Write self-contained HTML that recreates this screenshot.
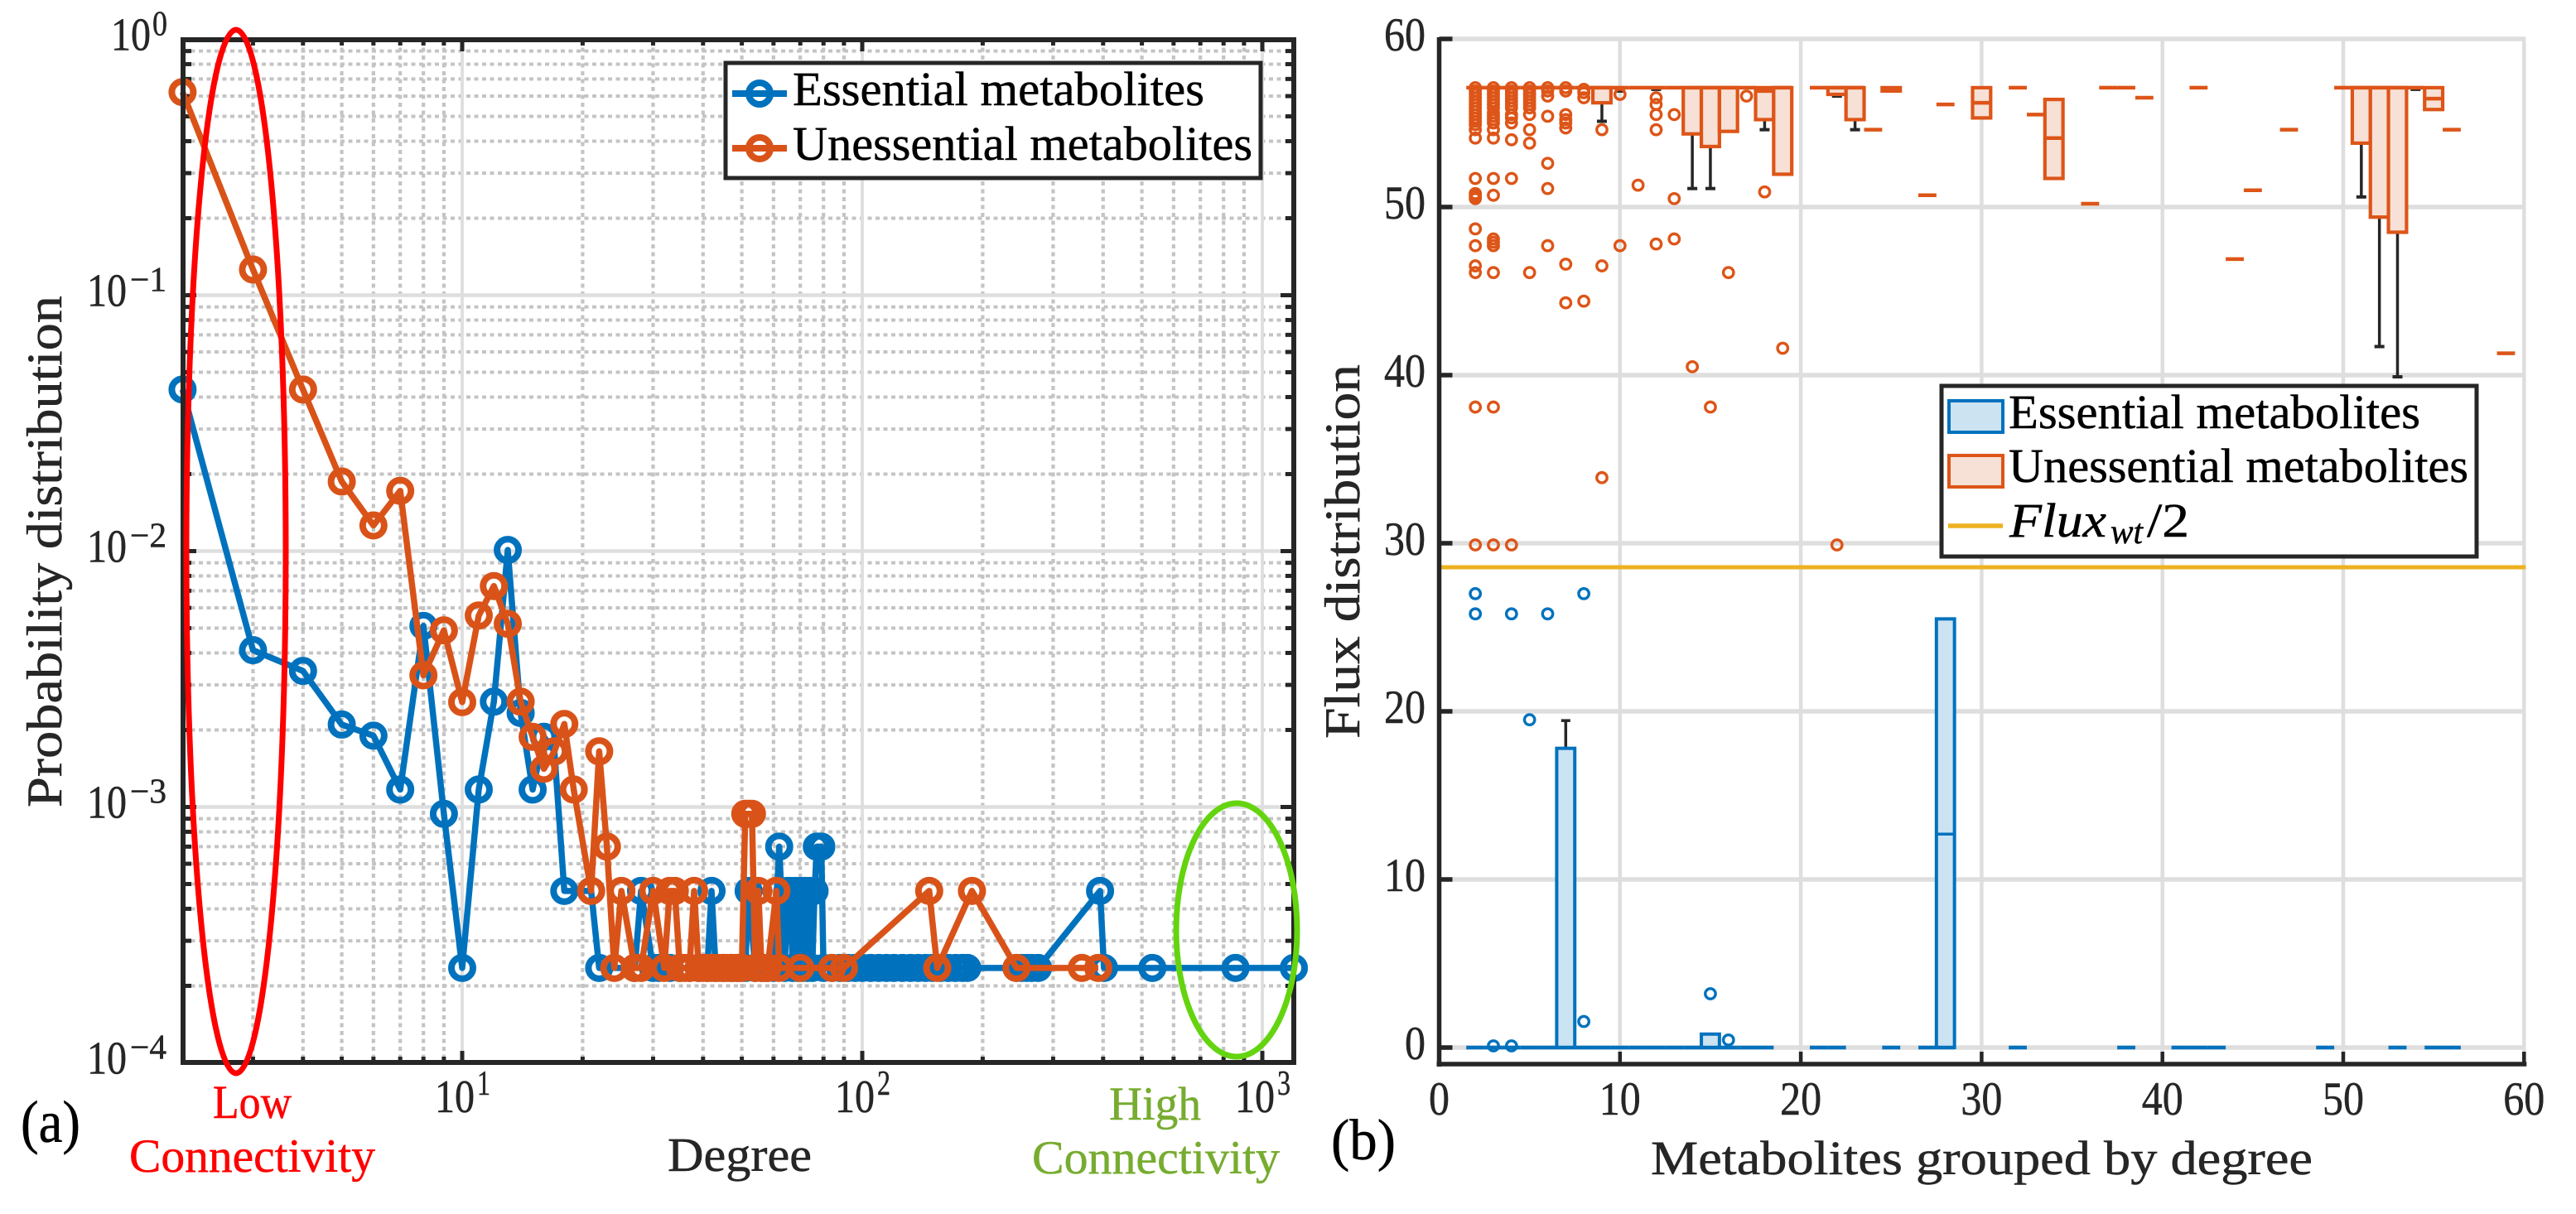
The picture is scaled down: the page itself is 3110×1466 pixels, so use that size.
<!DOCTYPE html>
<html lang="en">
<head>
<meta charset="utf-8">
<title>Metabolite degree and flux distributions</title>
<style>
html,body{margin:0;padding:0;background:#fff;}
svg{display:block;}
text{font-family:"Liberation Serif",serif;color:#262626;fill:currentColor;stroke:currentColor;stroke-width:0.5px;}
</style>
</head>
<body>
<svg id="fig" xmlns="http://www.w3.org/2000/svg" width="3110" height="1466" viewBox="0 0 3110 1466">
  <rect x="0" y="0" width="3110" height="1466" fill="#ffffff"/>

  <g id="panelA">
    <g id="gridA"></g>
    <g id="ticksA"></g>
    <g id="seriesA"></g>
    <rect x="221" y="48" width="1341" height="1235" fill="none" stroke="#262626" stroke-width="6"/>
    <g>
      <rect x="876" y="76" width="646" height="139" fill="#ffffff" stroke="#262626" stroke-width="5"/>
      <line x1="884" y1="113" x2="950" y2="113" stroke="#0072bd" stroke-width="8"/>
      <circle cx="917" cy="113" r="13" fill="none" stroke="#0072bd" stroke-width="8"/>
      <line x1="884" y1="179" x2="950" y2="179" stroke="#d95319" stroke-width="8"/>
      <circle cx="917" cy="179" r="13" fill="none" stroke="#d95319" stroke-width="8"/>
      <text x="957" y="127" font-size="58" textLength="497" lengthAdjust="spacingAndGlyphs" style="color:#000">Essential metabolites</text>
      <text x="957" y="193" font-size="58" textLength="555" lengthAdjust="spacingAndGlyphs" style="color:#000">Unessential metabolites</text>
    </g>
    <ellipse cx="285" cy="666" rx="60" ry="630" fill="none" stroke="#ff0000" stroke-width="7"/>
    <ellipse cx="1493" cy="1123" rx="73" ry="153" fill="none" stroke="#64d40f" stroke-width="7"/>
    <text transform="translate(74,975) rotate(-90)" font-size="60" textLength="618" lengthAdjust="spacingAndGlyphs">Probability distribution</text>
    <text x="806" y="1414" font-size="58" textLength="174" lengthAdjust="spacingAndGlyphs">Degree</text>
    <text x="257" y="1350" font-size="57" textLength="95" lengthAdjust="spacingAndGlyphs" style="color:#ff0000">Low</text>
    <text x="156" y="1415" font-size="57" textLength="297" lengthAdjust="spacingAndGlyphs" style="color:#ff0000">Connectivity</text>
    <text x="1339" y="1352" font-size="57" textLength="111" lengthAdjust="spacingAndGlyphs" style="color:#77ac30">High</text>
    <text x="1246" y="1417" font-size="57" textLength="299" lengthAdjust="spacingAndGlyphs" style="color:#77ac30">Connectivity</text>
    <text x="25" y="1379" font-size="72" textLength="72" lengthAdjust="spacingAndGlyphs" style="color:#000">(a)</text>
  </g>

  <g id="panelB">
    <g id="gridB"></g>
    <g id="seriesB"></g>
    <g id="ticksB"></g>
    <g>
      <rect x="2344" y="466" width="646" height="206" fill="#ffffff" stroke="#262626" stroke-width="5"/>
      <rect x="2353" y="484" width="65" height="38" fill="#cce3f2" stroke="#0072bd" stroke-width="4"/>
      <rect x="2353" y="550" width="65" height="38" fill="#f7e0d5" stroke="#dd5518" stroke-width="4"/>
      <line x1="2352" y1="635" x2="2418" y2="635" stroke="#edb120" stroke-width="5.5"/>
      <text x="2425" y="517" font-size="58" textLength="497" lengthAdjust="spacingAndGlyphs" style="color:#000">Essential metabolites</text>
      <text x="2425" y="582" font-size="58" textLength="555" lengthAdjust="spacingAndGlyphs" style="color:#000">Unessential metabolites</text>
      <text x="2426" y="648" font-size="58" font-style="italic" textLength="117" lengthAdjust="spacingAndGlyphs" style="color:#000">Flux</text>
      <text x="2548" y="656" font-size="42" font-style="italic" textLength="39" lengthAdjust="spacingAndGlyphs" style="color:#000">wt</text>
      <text x="2592" y="648" font-size="58" textLength="51" lengthAdjust="spacingAndGlyphs" style="color:#000">/2</text>
    </g>
    <text transform="translate(1641,892) rotate(-90)" font-size="60" textLength="452" lengthAdjust="spacingAndGlyphs">Flux distribution</text>
    <text x="1993" y="1418" font-size="58" textLength="799" lengthAdjust="spacingAndGlyphs">Metabolites grouped by degree</text>
    <text x="1607" y="1400" font-size="70" textLength="78" lengthAdjust="spacingAndGlyphs" style="color:#000">(b)</text>
  </g>
</svg>

<script>
/* ---------- Panel (a) data ---------- */
var degreeEssential = [2,3,4,5,6,7,8,9,10,11,12,13,14,15,16,17,18,21,22,27,
  28,30,31,33,35,37,39,41,42,43,45,47,49,51,52,54,
  56,58,60,62,64,65,66,67,68,69,70,71,72,73,74,75,76,77,78,79,80,
  84,88,92,96,100,105,110,115,120,126,132,138,144,150,157,164,171,178,183,
  243,250,258,265,275,393,402,531,857,1199];
var probEssential = [0.0428,0.0041,0.0034,0.0021,0.0019,0.00117,0.0051,0.00094,0.000235,0.00117,0.00258,0.0101,0.00233,0.00117,0.00188,0.00165,0.00047,0.00047,0.000235,0.000235,
  0.00047,0.000235,0.000235,0.000235,0.000235,0.000235,0.000235,0.000235,0.00047,0.000235,0.000235,0.000235,0.000235,0.000235,0.00047,0.000235,
  0.000235,0.000235,0.000235,0.0007,0.000235,0.00047,0.00047,0.000235,0.00047,0.000235,0.00047,0.000235,0.00047,0.000235,0.00047,0.000235,0.00047,0.0007,0.0007,0.0007,0.000235,
  0.000235,0.000235,0.000235,0.000235,0.000235,0.000235,0.000235,0.000235,0.000235,0.000235,0.000235,0.000235,0.000235,0.000235,0.000235,0.000235,0.000235,0.000235,0.000235,
  0.000235,0.000235,0.000235,0.000235,0.000235,0.00047,0.000235,0.000235,0.000235,0.000235];
var degreeUnessential = [2,3,4,5,6,7,8,9,10,11,12,13,14,15,16,17,18,19,21,22,23,24,25,27,28,30,32,33,34,35,36,37,38,39,40,41,42,43,44,45,46,47,48,49,50,51,52,53,54,55,56,57,58,61,62,70,84,90,147,154,188,243,354,389];
var probUnessential = [0.622,0.126,0.0428,0.0187,0.0126,0.0172,0.00327,0.0049,0.00257,0.0056,0.0073,0.0052,0.00258,0.00188,0.00141,0.00165,0.00211,0.00117,0.00047,0.00165,0.0007,0.000235,0.00047,0.000235,0.000235,0.00047,0.000235,0.00047,0.00047,0.000235,0.000235,0.000235,0.00047,0.000235,0.000235,0.000235,0.000235,0.000235,0.000235,0.000235,0.000235,0.000235,0.000235,0.000235,0.000235,0.00094,0.00094,0.00094,0.000235,0.00047,0.000235,0.000235,0.000235,0.00047,0.000235,0.000235,0.000235,0.000235,0.00047,0.000235,0.00047,0.000235,0.000235,0.000235];
var yExponents = [0,-1,-2,-3,-4];
var yExponentLabels = ['0','\u22121','\u22122','\u22123','\u22124'];
var xExponents = [1,2,3];
var xExponentLabels = ['1','2','3'];
var minorDigits = [2,3,4,5,6,7,8,9];

/* ---------- Panel (b) data ---------- */
var yTicksB = [0,10,20,30,40,50,60];
var xTicksB = [0,10,20,30,40,50,60];
var halfFlux = [28.57];
var xExtentB = [0,60];

var boxGroupsU = [9,10,12,14,15,16,18,19,22,23,25,30,34,51,52,53,54,55];
var boxTopU    = [57.1,57.1,57.1,57.1,57.1,57.1,57.1,57.1,57.1,57.1,57.1,57.1,56.4,57.1,57.1,57.1,57.1,57.1];
var boxMedU    = [57.1,57.1,57.1,57.1,57.1,57.1,56.9,57.1,57.1,57.1,57.0,56.2,54.1,57.1,57.1,57.1,57.1,56.45];
var boxBottomU = [56.2,57.1,57.1,54.35,53.6,54.5,55.2,51.95,56.7,55.2,56.9,55.3,51.7,53.8,49.4,48.5,57.1,55.8];
var whiskerLowU= [55.1,56.9,57.0,51.1,51.1,54.5,54.6,51.95,56.6,54.6,56.9,55.3,51.7,50.6,41.7,39.9,57.0,55.8];

var dashGroupsU = [2,3,4,5,6,7,8,11,13,17,21,24,27,28,32,33,36,37,38,39,42,44,45,47,50,56,59];
var dashValuesU = [57.1,57.1,57.1,57.1,57.1,57.1,57.1,57.1,57.1,57.1,57.1,54.6,50.7,56.1,57.1,55.5,50.2,57.1,57.1,56.5,57.1,46.9,51.0,54.6,57.1,54.6,41.3];

var fliersGroupU = [
 2,2,2,2,2,2,2,2,2,2,2,2,2,2,2,2,2,2,2,2,2,2,2,2,
 3,3,3,3,3,3,3,3,3,3,3,3,3,3,3,3,3,3,3,3,
 4,4,4,4,4,4,4,4,4,4,4,4,4,
 5,5,5,5,5,5,5,5,5,5,5,
 6,6,6,6,6,6,6,
 7,7,7,7,7,7,7,7,
 8,8,8,8,
 9,9,9,10,10,11,12,12,12,12,12,13,13,13,14,15,16,17,18,19,22,3];
var fliersValueU = [
 57.1,56.9,56.7,56.5,56.3,56.1,55.9,55.7,55.5,55.3,55.1,54.9,54.6,54.1,51.7,50.8,50.5,48.7,47.7,46.5,46.1,38.1,29.9,50.65,
 57.1,56.9,56.7,56.5,56.3,56.1,55.9,55.6,55.4,55.2,55.0,54.6,54.1,51.7,50.7,48.1,47.9,47.7,46.1,38.1,
 57.1,56.9,56.7,56.5,56.3,56.1,55.9,55.5,55.3,55.0,54.0,51.7,29.9,
 57.1,56.9,56.7,56.5,56.3,56.1,55.5,54.6,53.8,46.1,55.9,
 57.1,56.9,56.6,55.4,52.6,51.1,47.7,
 57.1,56.9,55.5,55.2,55.0,54.7,46.6,44.3,
 57.0,56.8,56.5,44.4,
 54.6,46.5,33.9,56.7,47.7,51.3,56.5,56.1,55.5,54.6,47.8,55.5,50.5,48.1,40.5,38.1,46.1,56.6,50.9,41.6,29.9,29.9];

var boxGroupsE = [7,15,28];
var boxTopE = [17.8,0.8,25.5];
var boxMedE = [0,0,12.7];
var whiskerHighE = [19.45,0.8,25.5];
var dashGroupsE = [2,3,4,5,6,7,8,9,10,11,12,13,14,15,16,17,18,21,22,25,27,28,32,38,41,42,43,49,53,55,56];
var fliersGroupE = [2,2,4,6,8,5,8,15,16,3,4];
var fliersValueE = [27.0,25.8,25.8,25.8,27.0,19.5,1.55,3.2,0.45,0.1,0.1];

/* ---------- helpers ---------- */
var NS = 'http://www.w3.org/2000/svg';
function make(tag, attrs, parent) {
  var n = document.createElementNS(NS, tag);
  for (var k in attrs) { n.setAttribute(k, attrs[k]); }
  parent.appendChild(n);
  return n;
}
function label(str, attrs, parent) {
  var n = make('text', attrs, parent);
  n.setAttribute('lengthAdjust', 'spacingAndGlyphs');
  n.textContent = str;
  return n;
}
function polyPath(xs, ys) {
  var s = '';
  for (var i = 0; i < xs.length; i++) { s += (i ? 'L' : 'M') + xs[i].toFixed(2) + ' ' + ys[i].toFixed(2); }
  return s;
}

/* ---------- axis functions ---------- */
function xA(d) { return 558 + 483 * Math.log10(d / 10); }
function yA(p) { return 47.5 - 309 * Math.log10(p); }
function xB(v) { return 1737.5 + 21.83 * v; }
function yB(v) { return 1265 - 20.3 * v; }

var el;
var gridA = document.getElementById('gridA');
var ticksA = document.getElementById('ticksA');
var seriesA = document.getElementById('seriesA');
var gridB = document.getElementById('gridB');
var ticksB = document.getElementById('ticksB');
var seriesB = document.getElementById('seriesB');
var A_L = 221, A_R = 1562, A_T = 48, A_B = 1283;
var B_T = 48, B_B = 1285, DARK = '#262626';

/* ---------- panel (a): minor grid and ticks ---------- */
[0,1,2].forEach(function (e) {
  minorDigits.forEach(function (m) {
    var d = m * Math.pow(10, e);
    if (d <= 2) { return; }
    var x = xA(d);
    el = make('line', {x1:x,y1:A_T,x2:x,y2:A_B,stroke:'#c4c4c4','stroke-width':4.2,'stroke-dasharray':'5 4.5'}, gridA);
    
    
    el = make('line', {x1:x,y1:A_B,x2:x,y2:A_B-7,stroke:DARK,'stroke-width':5}, ticksA);
    
    
    el = make('line', {x1:x,y1:A_T,x2:x,y2:A_T+7,stroke:DARK,'stroke-width':5}, ticksA);
    
    
  });
});
[-1,-2,-3,-4].forEach(function (e) {
  minorDigits.forEach(function (m) {
    var y = yA(m * Math.pow(10, e));
    el = make('line', {x1:A_L,y1:y,x2:A_R,y2:y,stroke:'#c4c4c4','stroke-width':4,'stroke-dasharray':'5 4.5'}, gridA);
    
    
    el = make('line', {x1:A_L,y1:y,x2:A_L+10,y2:y,stroke:DARK,'stroke-width':5}, ticksA);
    
    
    el = make('line', {x1:A_R,y1:y,x2:A_R-10,y2:y,stroke:DARK,'stroke-width':5}, ticksA);
    
    
  });
});

/* ---------- panel (a): major grid, ticks and labels ---------- */
xExponents.forEach(function (e, i) {
  var x = xA(Math.pow(10, e));
  el = make('line', {x1:x,y1:A_T,x2:x,y2:A_B,stroke:'#dedede','stroke-width':3.8}, gridA);
  
  
  el = make('line', {x1:x,y1:A_B,x2:x,y2:A_B-14,stroke:DARK,'stroke-width':5}, ticksA);
  
  
  el = make('line', {x1:x,y1:A_T,x2:x,y2:A_T+14,stroke:DARK,'stroke-width':5}, ticksA);
  
  
  el = label('10', {x:x-33,y:1343,'font-size':56,textLength:48}, ticksA);
  
  
  el = label(xExponentLabels[i], {x:x+18,y:1322,'font-size':42,textLength:16}, ticksA);
  
  
});
yExponents.forEach(function (e, i) {
  var y = yA(Math.pow(10, e));
  el = make('line', {x1:A_L,y1:y,x2:A_R,y2:y,stroke:'#dedede','stroke-width':4.5}, gridA);
  
  
  el = make('line', {x1:A_L,y1:y,x2:A_L+16,y2:y,stroke:DARK,'stroke-width':5}, ticksA);
  
  
  el = make('line', {x1:A_R,y1:y,x2:A_R-16,y2:y,stroke:DARK,'stroke-width':5}, ticksA);
  
  
  var single = yExponentLabels[i].length === 1;
  el = label('10', {x:single?134:105,y:y+13,'font-size':56,textLength:48}, ticksA);
  
  
  el = label(yExponentLabels[i], {x:single?184:157,y:y-5,'font-size':42,textLength:single?18:44}, ticksA);
  
  
});

/* ---------- panel (a): series ---------- */
function drawSeries(deg, prob, color, lineName, markerName) {
  var xs = deg.map(xA), ys = prob.map(yA);
  var ln = make('path', {d:polyPath(xs,ys),fill:'none',stroke:color,'stroke-width':7.5,'stroke-linejoin':'round'}, seriesA);
  
  
  for (var i = 0; i < xs.length; i++) {
    var c = make('circle', {cx:xs[i],cy:ys[i],r:13,fill:'none',stroke:color,'stroke-width':8}, seriesA);
    
    
  }
}
drawSeries(degreeEssential, probEssential, '#0072bd', 'essential-line', 'essential-point');
drawSeries(degreeUnessential, probUnessential, '#d95319', 'unessential-line', 'unessential-point');

/* ---------- panel (b): grid, ticks, labels ---------- */
yTicksB.forEach(function (v) {
  el = make('line', {x1:xB(xExtentB[0]),y1:yB(v),x2:xB(xExtentB[1])+2,y2:yB(v),stroke:'#dedede','stroke-width':5.5}, gridB);
  
  
  el = make('line', {x1:xB(0),y1:yB(v),x2:xB(0)+16,y2:yB(v),stroke:DARK,'stroke-width':5.5}, ticksB);
  
  
  el = label(String(v), {x:1721,y:yB(v)+14,'font-size':57,'text-anchor':'end',textLength:v===0?25:50}, ticksB);
  
  
});
xTicksB.forEach(function (v) {
  if (v > 0) {
    el = make('line', {x1:xB(v),y1:B_T,x2:xB(v),y2:B_B,stroke:'#dedede','stroke-width':4.5}, gridB);
    
    
  }
  el = make('line', {x1:xB(v),y1:B_B,x2:xB(v),y2:B_B-15,stroke:DARK,'stroke-width':4.5}, ticksB);
  
  
  el = label(String(v), {x:xB(v),y:1346,'font-size':57,'text-anchor':'middle',textLength:v===0?25:50}, ticksB);
  
  
});
el = make('line', {x1:xB(0),y1:B_T-3,x2:xB(0),y2:B_B+3,stroke:DARK,'stroke-width':5.5}, ticksB);


el = make('line', {x1:xB(0)-3,y1:B_B,x2:xB(60)+3,y2:B_B,stroke:DARK,'stroke-width':5.5}, ticksB);


el = make('line', {x1:xB(xExtentB[0]),y1:yB(halfFlux[0]),x2:xB(xExtentB[1])+2,y2:yB(halfFlux[0]),stroke:'#edb120','stroke-width':5}, seriesB);



/* ---------- panel (b): box plots ---------- */
var ORANGE = '#dd5518', BLUE = '#0072bd', HALF = 0.5;
boxGroupsU.forEach(function (g, i) {
  var xc = xB(g), hw = 21.83 * HALF;
  if (whiskerLowU[i] < boxBottomU[i]) {
    el = make('line', {x1:xc,y1:yB(boxBottomU[i]),x2:xc,y2:yB(whiskerLowU[i]),stroke:DARK,'stroke-width':3.5}, seriesB);
    
    
    el = make('line', {x1:xc-6,y1:yB(whiskerLowU[i]),x2:xc+6,y2:yB(whiskerLowU[i]),stroke:DARK,'stroke-width':4}, seriesB);
    
    
  }
  el = make('rect', {x:xc-hw,y:yB(boxTopU[i]),width:2*hw,height:yB(boxBottomU[i])-yB(boxTopU[i]),fill:'#f7e0d5',stroke:ORANGE,'stroke-width':4.2}, seriesB);
  
  
  el = make('line', {x1:xc-hw,y1:yB(boxMedU[i]),x2:xc+hw,y2:yB(boxMedU[i]),stroke:ORANGE,'stroke-width':4.5}, seriesB);
  
  
});
dashGroupsU.forEach(function (g, i) {
  el = make('line', {x1:xB(g-HALF),y1:yB(dashValuesU[i]),x2:xB(g+HALF),y2:yB(dashValuesU[i]),stroke:ORANGE,'stroke-width':4.5}, seriesB);
  
  
});
fliersGroupU.forEach(function (g, i) {
  el = make('circle', {cx:xB(g),cy:yB(fliersValueU[i]),r:6.2,fill:'none',stroke:ORANGE,'stroke-width':3.4}, seriesB);
  
  
});
boxGroupsE.forEach(function (g, i) {
  var xc = xB(g), hw = 21.83 * HALF;
  if (whiskerHighE[i] > boxTopE[i]) {
    el = make('line', {x1:xc,y1:yB(boxTopE[i]),x2:xc,y2:yB(whiskerHighE[i]),stroke:DARK,'stroke-width':3.5}, seriesB);
    
    
    el = make('line', {x1:xc-5.5,y1:yB(whiskerHighE[i]),x2:xc+5.5,y2:yB(whiskerHighE[i]),stroke:DARK,'stroke-width':3.5}, seriesB);
    
    
  }
  el = make('rect', {x:xc-hw,y:yB(boxTopE[i]),width:2*hw,height:yB(0)-yB(boxTopE[i]),fill:'#cce3f2',stroke:BLUE,'stroke-width':4}, seriesB);
  
  
  el = make('line', {x1:xc-hw,y1:yB(boxMedE[i]),x2:xc+hw,y2:yB(boxMedE[i]),stroke:BLUE,'stroke-width':3.5}, seriesB);
  
  
});
dashGroupsE.forEach(function (g) {
  el = make('line', {x1:xB(g-HALF),y1:yB(0),x2:xB(g+HALF),y2:yB(0),stroke:BLUE,'stroke-width':4.5}, seriesB);
  
  
});
fliersGroupE.forEach(function (g, i) {
  el = make('circle', {cx:xB(g),cy:yB(fliersValueE[i]),r:6.2,fill:'none',stroke:BLUE,'stroke-width':3.4}, seriesB);
  
  
});
</script>
</body>
</html>
